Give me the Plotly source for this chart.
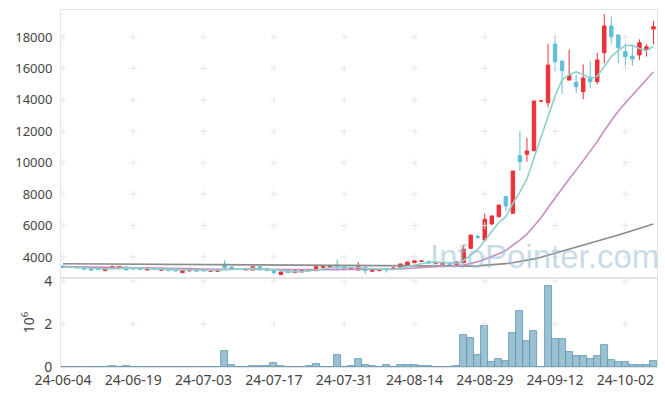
import pandas as pd
import plotly.graph_objects as go

# ---- categories (Korean trading days) ----
holidays = ["2024-06-06", "2024-08-15", "2024-09-16", "2024-09-17", "2024-09-18",
            "2024-10-01", "2024-10-03", "2024-10-09"]
days = pd.bdate_range("2024-06-04", "2024-10-10", freq="C", holidays=holidays)
dates = [d.strftime("%y-%m-%d") for d in days]

# ---- OHLC ----
opens = [3430, 3360, 3380, 3340, 3300, 3250, 3130, 3280, 3260, 3360,
         3250, 3280, 3170, 3300, 3150, 3260, 3180, 3000, 3110, 3216,
         3200, 3090, 3090, 3555, 3365, 3220, 3173, 3173, 3385, 3258,
         3216, 2875, 3131, 3004, 3046, 3131, 3131, 3343, 3365, 3471,
         3386, 3217, 3174, 3344, 3090, 3132, 3260, 3250, 3344, 3471,
         3640, 3720, 3725, 3590, 3520, 3640, 3514, 3640, 4550, 5320,
         5080, 6100, 6560, 7840, 6780, 10450, 10540, 10760, 13930, 13820,
         17550, 16470, 15260, 15120, 14520, 15440, 15160, 17000, 18700, 18130,
         17070, 16790, 16860, 17170, 18510]
highs = [3450, 3400, 3390, 3350, 3310, 3260, 3310, 3450, 3410, 3370,
         3270, 3290, 3330, 3310, 3290, 3270, 3190, 3160, 3290, 3230,
         3230, 3140, 3200, 3810, 3380, 3240, 3270, 3400, 3390, 3270,
         3230, 3060, 3140, 3140, 3180, 3230, 3400, 3400, 3420, 3853,
         3400, 3320, 3683, 3360, 3230, 3230, 3270, 3320, 3570, 3700,
         3937, 3780, 3740, 3640, 3610, 3650, 3700, 4760, 5400, 5450,
         6780, 6650, 7330, 7900, 9470, 12020, 11590, 13930, 13930, 17550,
         18130, 16500, 17210, 15580, 16260, 16470, 17000, 19450, 19300, 18130,
         17600, 17490, 17850, 17550, 19020]
lows = [3320, 3340, 3290, 3210, 3150, 3180, 3120, 3270, 3250, 3160,
        3220, 3190, 3160, 3200, 3140, 3120, 3110, 2990, 3100, 3080,
        3080, 3080, 3080, 3300, 3200, 3190, 3160, 3160, 3160, 3120,
        2875, 2870, 2990, 2990, 3030, 3120, 3120, 3330, 3350, 3090,
        3250, 3200, 3160, 2920, 3080, 3120, 3005, 3240, 3330, 3460,
        3630, 3680, 3590, 3570, 3510, 3500, 3500, 3600, 4550, 5150,
        5080, 6050, 6540, 6900, 6780, 9470, 10070, 10760, 13930, 13530,
        15790, 14350, 15260, 14420, 14040, 14740, 14990, 16320, 17600, 16320,
        15950, 16180, 16540, 16750, 17540]
closes = [3340, 3380, 3300, 3220, 3160, 3200, 3300, 3400, 3400, 3175,
          3240, 3200, 3320, 3215, 3280, 3130, 3120, 3150, 3280, 3088,
          3120, 3130, 3195, 3322, 3216, 3210, 3258, 3385, 3173, 3131,
          3004, 3046, 3004, 3131, 3173, 3216, 3385, 3385, 3400, 3301,
          3260, 3301, 3386, 3132, 3217, 3217, 3174, 3300, 3556, 3683,
          3768, 3740, 3598, 3610, 3598, 3514, 3683, 4490, 5400, 5260,
          6400, 6610, 7310, 7250, 9470, 10070, 10750, 13930, 13930, 16220,
          16430, 15860, 15560, 14840, 15390, 15160, 16540, 18700, 18020, 17320,
          16750, 16600, 17640, 17380, 18660]

# ---- volume (shares) ----
volumes = [4000, 3000, 5000, 2000, 3000, 2000, 4000, 30000, 5000, 25000,
           3000, 4000, 5000, 3000, 4000, 3000, 5000, 4000, 3000, 5000,
           4000, 3000, 5000, 740000, 80000, 5000, 8000, 30000, 30000, 30000,
           170000, 30000, 5000, 5000, 8000, 30000, 120000, 5000, 5000, 540000,
           10000, 30000, 370000, 80000, 40000, 5000, 80000, 5000, 80000, 80000,
           80000, 50000, 50000, 10000, 10000, 10000, 50000, 1470000, 1330000, 540000,
           1890000, 220000, 360000, 260000, 1570000, 2590000, 1190000, 1660000, 0, 3750000,
           1290000, 1290000, 680000, 500000, 500000, 370000, 500000, 1010000, 330000, 220000,
           220000, 80000, 80000, 80000, 260000]

# ---- moving average lines ----
ma5 = [3380, 3370, 3350, 3320, 3280, 3252, 3236, 3256, 3292, 3295,
       3303, 3283, 3267, 3230, 3251, 3229, 3213, 3179, 3192, 3154,
       3152, 3154, 3163, 3171, 3197, 3215, 3240, 3278, 3248, 3231,
       3190, 3148, 3072, 3063, 3072, 3114, 3182, 3258, 3312, 3337,
       3346, 3329, 3330, 3276, 3259, 3251, 3225, 3208, 3293, 3386,
       3496, 3609, 3669, 3680, 3663, 3612, 3601, 3779, 4137, 4469,
       5047, 5632, 6196, 6566, 7408, 8142, 8970, 10294, 11630, 12980,
       14252, 15274, 15600, 15782, 15616, 15362, 15498, 16126, 16762, 17148,
       17466, 17478, 17266, 17138, 17406]
ma20 = [3385, 3380, 3372, 3365, 3355, 3348, 3340, 3335, 3330, 3322,
        3315, 3305, 3298, 3290, 3282, 3275, 3265, 3258, 3252, 3245,
        3234, 3221, 3216, 3221, 3224, 3225, 3222, 3222, 3210, 3208,
        3196, 3189, 3173, 3169, 3163, 3168, 3181, 3193, 3199, 3209,
        3216, 3225, 3234, 3225, 3225, 3225, 3221, 3217, 3236, 3264,
        3302, 3336, 3366, 3390, 3411, 3426, 3441, 3496, 3596, 3694,
        3851, 4017, 4213, 4419, 4732, 5074, 5453, 5985, 6503, 7130,
        7763, 8369, 8967, 9529, 10118, 10701, 11344, 12054, 12685, 13288,
        13806, 14305, 14822, 15328, 15788]
ma_long = [3575, 3572, 3569, 3566, 3563, 3560, 3557, 3554, 3551, 3548,
           3545, 3541, 3537, 3533, 3529, 3525, 3521, 3517, 3513, 3509,
           3505, 3501, 3497, 3493, 3490, 3487, 3484, 3481, 3478, 3474,
           3470, 3466, 3462, 3458, 3454, 3450, 3447, 3444, 3441, 3438,
           3435, 3432, 3429, 3426, 3423, 3420, 3417, 3414, 3411, 3408,
           3405, 3402, 3399, 3397, 3395, 3393, 3390, 3400, 3420, 3438,
           3468, 3499, 3538, 3576, 3636, 3702, 3775, 3880, 3985, 4113,
           4243, 4367, 4488, 4602, 4721, 4838, 4969, 5122, 5267, 5406,
           5539, 5670, 5812, 5952, 6104]

price_ticks = [4000, 6000, 8000, 10000, 12000, 14000, 16000, 18000]
vol_ticks = [0, 2, 4]
tick_idx = list(range(0, len(dates), 10))

UP = "#ec3138"
DOWN = "#5fbfd8"
FONT = "Noto Sans"
GRID = "#e6e6e6"
BORDER = "#e3e3e3"

fig = go.Figure()

# volume
fig.add_trace(go.Bar(
    x=dates, y=[v / 1e6 for v in volumes], xaxis="x", yaxis="y", width=1.0,
    marker=dict(color="rgba(140,184,204,0.88)", line=dict(color="#5d93ad", width=0.8)),
    showlegend=False))

# candles
fig.add_trace(go.Candlestick(
    x=dates, open=opens, high=highs, low=lows, close=closes,
    xaxis="x2", yaxis="y2", showlegend=False, whiskerwidth=0,
    increasing=dict(line=dict(color=UP, width=1), fillcolor=UP),
    decreasing=dict(line=dict(color=DOWN, width=1), fillcolor=DOWN)))

# grid "crosses"
gx = [dates[i] for i in tick_idx]
cross = dict(symbol="cross-thin", size=5, line=dict(color=GRID, width=1))
fig.add_trace(go.Scatter(
    x=[x for x in gx for _ in price_ticks], y=[y for _ in gx for y in price_ticks],
    mode="markers", xaxis="x2", yaxis="y2", hoverinfo="skip", showlegend=False,
    marker=cross))
fig.add_trace(go.Scatter(
    x=[x for x in gx for _ in vol_ticks[1:]], y=[y for _ in gx for y in vol_ticks[1:]],
    mode="markers", xaxis="x", yaxis="y", hoverinfo="skip", showlegend=False,
    marker=cross))

# moving averages
fig.add_trace(go.Scatter(x=dates, y=ma_long, mode="lines", xaxis="x2", yaxis="y2",
                         line=dict(color="#8c8c8c", width=1.6), showlegend=False))
fig.add_trace(go.Scatter(x=dates, y=ma20, mode="lines", xaxis="x2", yaxis="y2",
                         line=dict(color="#c88cc0", width=1.6), showlegend=False))
fig.add_trace(go.Scatter(x=dates, y=ma5, mode="lines", xaxis="x2", yaxis="y2",
                         line=dict(color="#8dd0c8", width=1.6), showlegend=False))

xr = [-0.28, len(dates) - 0.5]
tickfont = dict(family=FONT, size=13, color="#444")

fig.update_layout(
    width=665, height=396,
    margin=dict(l=61, r=8, t=10, b=29),
    paper_bgcolor="white", plot_bgcolor="white",
    font=dict(family=FONT),
    bargap=0,
    xaxis=dict(domain=[0, 1], type="category", range=xr, anchor="y", automargin=False,
               categoryorder="array", categoryarray=dates,
               tickmode="array", tickvals=gx, ticktext=gx, tickangle=0,
               showgrid=False, zeroline=False, showline=True, mirror=True,
               linecolor=BORDER, linewidth=1, ticks="", tickfont=dict(tickfont, size=14)),
    yaxis=dict(domain=[0, 0.2493], range=[0, 4.14], anchor="x", automargin=False,
               tickvals=vol_ticks, showgrid=False, zeroline=False,
               showline=True, mirror=True, linecolor=BORDER, linewidth=1,
               ticks="outside", ticklen=5, tickcolor="rgba(0,0,0,0)",
               tickfont=dict(tickfont, size=14),
               title=dict(text="10<sup>6</sup>", font=dict(family=FONT, size=14, color="#444"),
                          standoff=6)),
    xaxis2=dict(domain=[0, 1], type="category", range=xr, anchor="y2", matches="x",
                automargin=False,
                categoryorder="array", categoryarray=dates,
                showticklabels=False, showgrid=False, zeroline=False,
                showline=True, mirror=True, linecolor=BORDER, linewidth=1,
                rangeslider=dict(visible=False)),
    yaxis2=dict(domain=[0.2493, 1], range=[2664, 19720], anchor="x2", automargin=False,
                tickvals=price_ticks, tickformat="d", showgrid=False, zeroline=False,
                showline=True, mirror=True, linecolor=BORDER, linewidth=1,
                ticks="outside", ticklen=5, tickcolor="rgba(0,0,0,0)",
                tickfont=tickfont),
    annotations=[dict(text="InfoPointer.com", xref="paper", yref="paper",
                      x=0.615, y=0.31, xanchor="left", yanchor="middle",
                      showarrow=False,
                      font=dict(family="Liberation Sans", size=33,
                                color="rgba(150,190,210,0.55)"))],
)

fig.write_html("out.html", post_script="document.body.style.margin='0';",
               config={"displayModeBar": False})
